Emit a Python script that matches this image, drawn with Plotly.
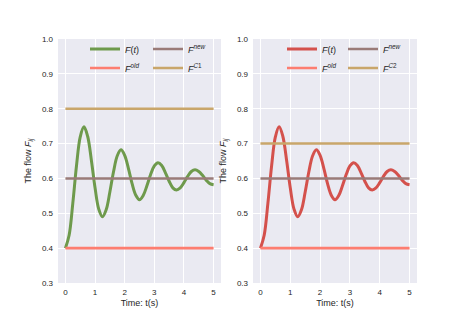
import plotly.graph_objects as go
from plotly.subplots import make_subplots

# ---- data ----
time_s = [i * 0.125 for i in range(41)]
flow_ft = [0.400, 0.437, 0.529, 0.637, 0.719, 0.748, 0.721, 0.653, 0.573, 0.512,
           0.490, 0.510, 0.561, 0.620, 0.665, 0.682, 0.666, 0.629, 0.585, 0.552,
           0.539, 0.551, 0.579, 0.611, 0.636, 0.645, 0.637, 0.616, 0.592, 0.573,
           0.567, 0.573, 0.588, 0.606, 0.620, 0.625, 0.620, 0.609, 0.595, 0.585,
           0.582]
f_old = 0.4
f_new = 0.6
f_c1 = 0.8
f_c2 = 0.7
t_line = [0, 5]
x_ticks = [0, 1, 2, 3, 4, 5]
y_ticks = [0.3, 0.4, 0.5, 0.6, 0.7, 0.8, 0.9, 1.0]

GREEN = "#6e9a4c"
RED = "#d4514c"
SALMON = "#fd7d70"
MAUVE = "#9a7b78"
TAN = "#c9a66a"
FONT = "Liberation Sans, Arial, sans-serif"

fig = make_subplots(rows=1, cols=2)

panels = [
    (1, GREEN, f_c1, "<i>F</i><sup><i>C</i>1</sup>", "legend", "legend2"),
    (2, RED, f_c2, "<i>F</i><sup><i>C</i>2</sup>", "legend3", "legend4"),
]
for col, ccol, cval, cname, lg1, lg2 in panels:
    fig.add_trace(go.Scatter(x=time_s, y=flow_ft, mode="lines", line=dict(color=ccol, width=3, shape="spline"),
                             name="<i>F</i>(<i>t</i>)", legend=lg1), row=1, col=col)
    fig.add_trace(go.Scatter(x=t_line, y=[f_old, f_old], mode="lines", line=dict(color=SALMON, width=2.6),
                             name="<i>F</i><sup><i>old</i></sup>", legend=lg1), row=1, col=col)
    fig.add_trace(go.Scatter(x=t_line, y=[f_new, f_new], mode="lines", line=dict(color=MAUVE, width=2.6),
                             name="<i>F</i><sup><i>new</i></sup>", legend=lg2), row=1, col=col)
    fig.add_trace(go.Scatter(x=t_line, y=[cval, cval], mode="lines", line=dict(color=TAN, width=2.6),
                             name=cname, legend=lg2), row=1, col=col)

W, H = 463, 319
OFF = 8  # page body margin in the browser
ydom = [(H - (283 - OFF)) / H, (H - (39 - OFF)) / H]
fig.update_layout(
    width=W, height=H,
    margin=dict(l=0, r=0, t=0, b=0, autoexpand=False),
    paper_bgcolor="white",
    plot_bgcolor="#eaeaf2",
    font=dict(family=FONT, size=8, color="#262626"),
    xaxis=dict(domain=[(58 - OFF) / W, (221 - OFF) / W]),
    xaxis2=dict(domain=[(253 - OFF) / W, (417 - OFF) / W]),
    yaxis=dict(domain=ydom),
    yaxis2=dict(domain=ydom),
)
leg_common = dict(orientation="v", bgcolor="rgba(0,0,0,0)", borderwidth=0,
                  font=dict(family=FONT, size=9, color="#262626"),
                  xanchor="left", yanchor="top", y=(H - 26.5) / H, tracegroupgap=0)
fig.update_layout(
    legend=dict(leg_common, x=77 / W),
    legend2=dict(leg_common, x=140 / W),
    legend3=dict(leg_common, x=274 / W),
    legend4=dict(leg_common, x=335 / W),
)
fig.update_xaxes(range=[-0.25, 5.25], tickvals=x_ticks, showgrid=True, gridcolor="white", gridwidth=1,
                 zeroline=False, showline=False, ticks="", tickfont=dict(size=8), automargin=False,
                 ticklabelstandoff=3,
                 title=dict(text="Time: t(s)", font=dict(size=9), standoff=3))
fig.update_yaxes(range=[0.3, 1.0], tickvals=y_ticks, tickformat=".1f", showgrid=True, gridcolor="white",
                 gridwidth=1, zeroline=False, showline=False, ticks="", tickfont=dict(size=8), automargin=False,
                 ticklabelstandoff=4,
                 title=dict(text="The flow <i>F</i><sub><i>ij</i></sub>", font=dict(size=9), standoff=8))

fig.write_html("out.html")
